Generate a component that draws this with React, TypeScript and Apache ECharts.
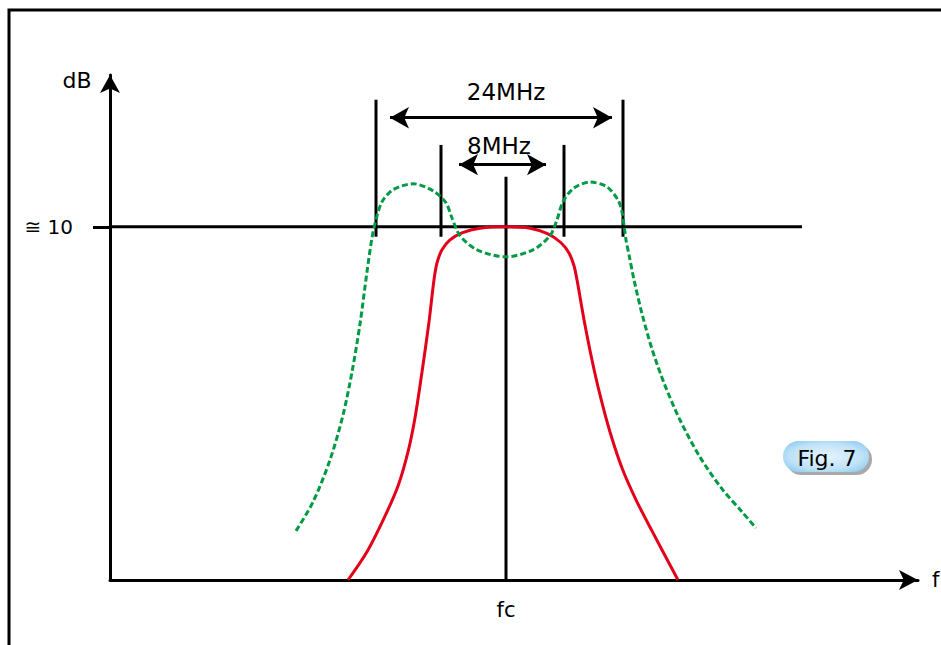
import React, { useEffect, useRef } from "react";
import * as echarts from "echarts";

// Frequency offset from fc (arbitrary MHz-like units) and level (dB)
const redCurve: [number, number][] = [
  [-15.8, 0], [-13.9, 0.8], [-12.1, 1.81], [-10.8, 2.66], [-9.8, 3.63], [-9.1, 4.59],
  [-8.4, 5.89], [-7.7, 7.31], [-7.2, 8.5], [-6.9, 8.98], [-6.4, 9.35], [-5.6, 9.63],
  [-4.4, 9.83], [-2.6, 9.96], [0, 10], [2.4, 9.96], [4.2, 9.8], [5.5, 9.55], [6.3, 9.26],
  [6.8, 8.9], [7.1, 8.5], [7.8, 7.37], [8.6, 6.23], [9.4, 5.24], [10.4, 4.19], [11.6, 3.17],
  [13.0, 2.27], [14.6, 1.39], [17.2, 0],
];

const greenCurve: [number, number][] = [
  [-21.0, 1.39], [-19.3, 2.21], [-17.6, 3.4], [-16.3, 4.67], [-15.4, 5.89], [-14.6, 7.25],
  [-13.9, 8.73], [-13.4, 9.69], [-13.0, 10.2], [-12.4, 10.71], [-11.3, 11.05], [-9.3, 11.22],
  [-7.3, 11.02], [-6.0, 10.68], [-5.4, 10.25], [-4.6, 9.75], [-2.9, 9.35], [0, 9.15],
  [2.7, 9.35], [4.4, 9.75], [5.1, 10.2], [5.7, 10.71], [6.8, 11.1], [8.4, 11.27],
  [10.1, 11.13], [11.2, 10.76], [11.6, 10.42], [12.0, 9.63], [12.3, 9.21], [12.8, 8.5],
  [13.6, 7.54], [14.6, 6.54], [15.8, 5.58], [17.4, 4.53], [19.4, 3.48], [21.6, 2.58],
  [23.6, 1.93], [25.0, 1.47],
];

const refLevel = 10;
const refLabel = "≅ 10";
const refLineEnd = 29.6;
const centerTop = 11.42;
const outerMarkers = [-13.0, 11.7];
const innerMarkers = [-6.5, 5.8];
const markerBottom = 9.72;
const outerTop = 13.6;
const innerTop = 12.32;
const wideArrow = { from: -11.6, to: 10.6, y: 13.09, label: "24MHz" };
const narrowArrow = { from: -4.7, to: 4.0, y: 11.76, label: "8MHz" };
const xMin = -39.6;
const xMax = 41.2;
const yMax = 14.3;

const FONT = "DejaVu Sans";

export default function App() {
  const ref = useRef<HTMLDivElement>(null);
  useEffect(() => {
    if (!ref.current) return;
    const chart = echarts.init(ref.current, undefined, { renderer: "svg" });
    const blackLine = (data: [number, number][]) => ({
      type: "line",
      data,
      symbol: "none",
      clip: false,
      silent: true,
      lineStyle: { color: "#000", width: 3 },
      z: 3,
    });
    const markerSeries = [
      ...outerMarkers.map((x) => blackLine([[x, markerBottom], [x, outerTop]])),
      ...innerMarkers.map((x) => blackLine([[x, markerBottom], [x, innerTop]])),
    ];
    chart.setOption({
      animation: false,
      backgroundColor: "#fff",
      grid: { left: 110, right: 23, top: 75, bottom: 65 },
      xAxis: {
        type: "value",
        min: xMin,
        max: xMax,
        axisLine: {
          show: true,
          onZero: false,
          symbol: ["none", "arrow"],
          symbolSize: [15, 19],
          lineStyle: { color: "#000", width: 3 },
        },
        axisTick: { show: false },
        axisLabel: { show: false },
        splitLine: { show: false },
      },
      yAxis: {
        type: "value",
        min: 0,
        max: yMax,
        interval: 10,
        axisLine: {
          show: true,
          onZero: false,
          symbol: ["none", "arrow"],
          symbolSize: [15, 18],
          lineStyle: { color: "#000", width: 3 },
        },
        axisTick: {
          show: true,
          customValues: [refLevel],
          length: 17,
          lineStyle: { color: "#000", width: 3 },
        },
        axisLabel: {
          margin: 37,
          customValues: [refLevel],
          showMaxLabel: false,
          color: "#000",
          fontFamily: FONT,
          fontSize: 20,
          formatter: (v: number) => (v === refLevel ? refLabel : ""),
        },
        splitLine: { show: false },
      },
      series: [
        blackLine([[xMin, refLevel], [refLineEnd, refLevel]]),
        {
          ...blackLine([[0, 0], [0, centerTop]]),
          markLine: {
            silent: true,
            symbol: ["arrow", "arrow"],
            symbolSize: [16, 19],
            label: { show: false },
            lineStyle: { color: "#000", width: 3, type: "solid" },
            data: [
              [{ coord: [wideArrow.from, wideArrow.y] }, { coord: [wideArrow.to, wideArrow.y] }],
              [{ coord: [narrowArrow.from, narrowArrow.y] }, { coord: [narrowArrow.to, narrowArrow.y] }],
            ],
          },
        },
        ...markerSeries,
        {
          type: "line",
          data: redCurve,
          smooth: 0.3,
          symbol: "none",
          clip: false,
          lineStyle: { color: "#e2001a", width: 3 },
          z: 4,
        },
        {
          type: "line",
          data: greenCurve,
          smooth: 0.3,
          symbol: "none",
          clip: false,
          lineStyle: { color: "#009a44", width: 3, type: [6, 3] },
          z: 5,
        },
      ],
      graphic: [
        {
          type: "rect",
          shape: { x: 9, y: 10, width: 1200, height: 1200 },
          style: { fill: "none", stroke: "#000", lineWidth: 3 },
          silent: true,
        },
        { type: "text", x: 77, y: 80, style: { text: "dB", font: `22px '${FONT}'`, fill: "#000", align: "center", verticalAlign: "middle" } },
        { type: "text", x: 506, y: 92, style: { text: wideArrow.label, font: `23px '${FONT}'`, fill: "#000", align: "center", verticalAlign: "middle" } },
        { type: "text", x: 499, y: 146, style: { text: narrowArrow.label, font: `23px '${FONT}'`, fill: "#000", align: "center", verticalAlign: "middle" } },
        { type: "text", x: 506, y: 610, style: { text: "fc", font: `21px '${FONT}'`, fill: "#000", align: "center", verticalAlign: "middle" } },
        { type: "text", x: 932, y: 580, style: { text: "f", font: `21px '${FONT}'`, fill: "#000", align: "left", verticalAlign: "middle" } },
        {
          type: "rect",
          shape: { x: 786, y: 444, width: 86, height: 31, r: 15.5 },
          style: { fill: "#a9a9a9" },
        },
        {
          type: "rect",
          shape: { x: 783, y: 441, width: 86, height: 31, r: 15.5 },
          style: {
            fill: new echarts.graphic.RadialGradient(0.5, 0.5, 0.7, [
              { offset: 0, color: "#e6f4fc" },
              { offset: 0.6, color: "#bfe2f7" },
              { offset: 1, color: "#7cc3ee" },
            ]),
          },
        },
        { type: "text", x: 827, y: 458, style: { text: "Fig. 7", font: `22px '${FONT}'`, fill: "#000", align: "center", verticalAlign: "middle" } },
      ],
    });
    return () => chart.dispose();
  }, []);
  return <div ref={ref} style={{ width: 941, height: 645, position: "absolute", left: 0, top: 0 }} />;
}
